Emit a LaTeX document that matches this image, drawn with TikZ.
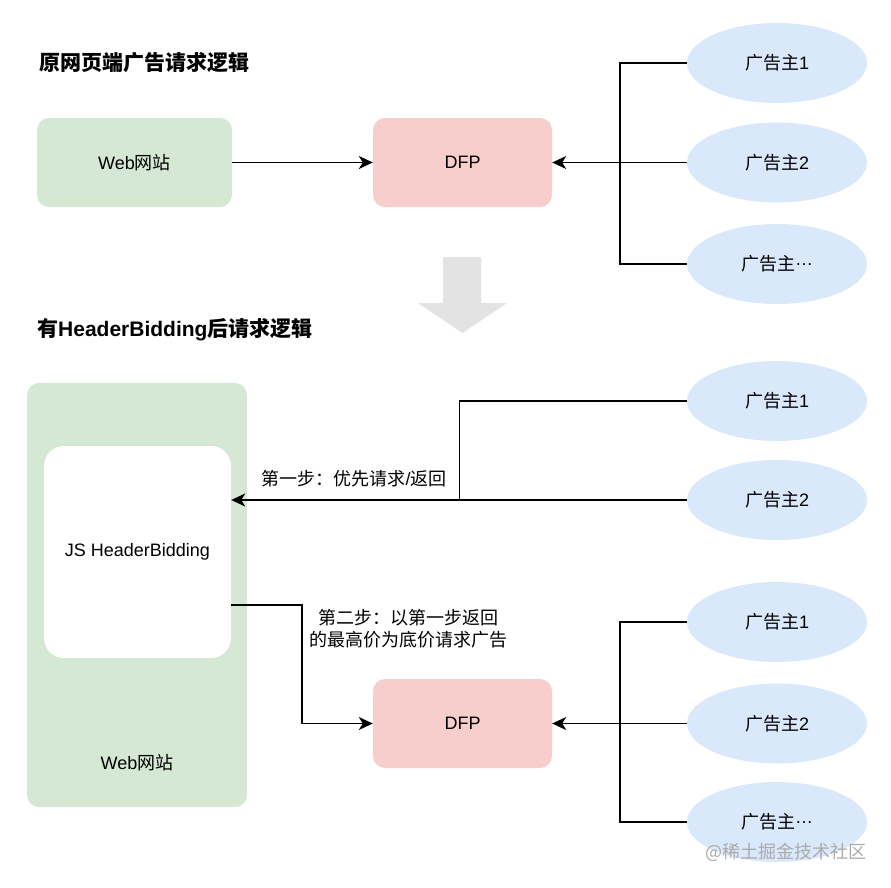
\documentclass[tikz,border=0pt]{standalone}
\usepackage{fontspec}
\setmainfont{Liberation Sans}
\newfontfamily\cjk{Noto Sans CJK SC}
\usetikzlibrary{arrows.meta,shapes.geometric}
\definecolor{boxgreen}{HTML}{D5E8D4}
\definecolor{boxpink}{HTML}{F8CECC}
\definecolor{boxblue}{HTML}{DAE8FC}
\definecolor{arrowgrey}{HTML}{E3E3E3}
\definecolor{wmgrey}{HTML}{AAAAAA}
\newcommand{\middots}{\raisebox{0.3em}{…}}
\tikzset{
  lbl/.style={font=\fontsize{18}{21}\selectfont, text=black},
  ttl/.style={font=\fontsize{21}{24}\selectfont\bfseries, anchor=west, inner sep=0pt},
  greenbox/.style={rectangle, rounded corners=12pt, fill=boxgreen, minimum width=#1, inner sep=0pt, lbl},
  pinkbox/.style={rectangle, rounded corners=12pt, fill=boxpink, minimum width=179pt, minimum height=89pt, inner sep=0pt, lbl},
  adv/.style={ellipse, fill=boxblue, minimum width=180pt, minimum height=80pt, inner sep=0pt, lbl},
  conn/.style={line width=1.3pt, draw=black},
  arr/.style={conn, -{Stealth[length=14pt,width=13pt,inset=4pt]}},
}
\begin{document}
\begin{tikzpicture}[x=1pt,y=-1pt]
\useasboundingbox (0,0) rectangle (891,887);

% ---------- top part ----------
\node[ttl] (t1) at (39,63) {\cjk 原网页端广告请求逻辑};
\node[greenbox=195pt, minimum height=89pt] (web1) at (134.5,162.5) {Web{\cjk 网站}};
\node[pinkbox] (dfp1) at (462.5,162.5) {DFP};
\node[adv] (a1) at (777,63) {{\cjk 广告主}1};
\node[adv] (a2) at (777,162.5) {{\cjk 广告主}2};
\node[adv] (a3) at (777,264) {{\cjk 广告主}\middots};
\coordinate (j1) at (620,162.5);

\draw[arr] (web1) -- (dfp1);
\draw[arr] (a2.west) -- (dfp1.east);
\draw[conn] (a1.west) -| (j1);
\draw[conn] (a3.west) -| (j1);

% big grey arrow
\fill[arrowgrey] (443,257) -- (481,257) -- (481,303) -- (507,303) -- (462.5,333)
  -- (418,303) -- (443,303) -- cycle;

% ---------- bottom part ----------
\node[ttl] (t2) at (37,330) {{\cjk 有}HeaderBidding{\cjk 后请求逻辑}};
\node[greenbox=220pt, minimum height=424pt] (web2) at (137,595) {};
\node[rectangle, rounded corners=20pt, fill=white, minimum width=187pt, minimum height=212pt, inner sep=0pt, lbl] (js) at (137.5,552) {JS HeaderBidding};
\node[lbl, inner sep=0pt] (web2t) at (137,763) {Web{\cjk 网站}};

\node[adv] (b1) at (777,401) {{\cjk 广告主}1};
\node[adv] (b2) at (777,500) {{\cjk 广告主}2};
\coordinate (j2) at (459.5,500);
\draw[arr] (b2.west) -- (b2.west -| js.east);
\draw[conn] (b1.west) -| (j2);
\node[lbl, inner sep=0pt] (s1) at (354,479) {{\cjk 第一步：优先请求}/{\cjk 返回}};

\node[pinkbox] (dfp2) at (462.5,723.5) {DFP};
\coordinate (bend) at (302,605);
\draw[arr] ([yshift=-53pt]js.east) -- (bend) |- (dfp2.west);
\node[lbl, inner sep=0pt, align=center, font=\fontsize{18}{22}\selectfont\cjk] (s2) at (408,629) {第二步：以第一步返回\\的最高价为底价请求广告};

\node[adv] (c1) at (777,622) {{\cjk 广告主}1};
\node[adv] (c2) at (777,723.5) {{\cjk 广告主}2};
\node[adv] (c3) at (777,822) {{\cjk 广告主}\middots};
\coordinate (j3) at (620,723.5);
\draw[arr] (c2.west) -- (dfp2.east);
\draw[conn] (c1.west) -| (j3);
\draw[conn] (c3.west) -| (j3);

% watermark
\node[inner sep=0pt, text=wmgrey, font=\fontsize{18}{20}\selectfont\cjk] (wm) at (786,852) {@稀土掘金技术社区};
\end{tikzpicture}
\end{document}
